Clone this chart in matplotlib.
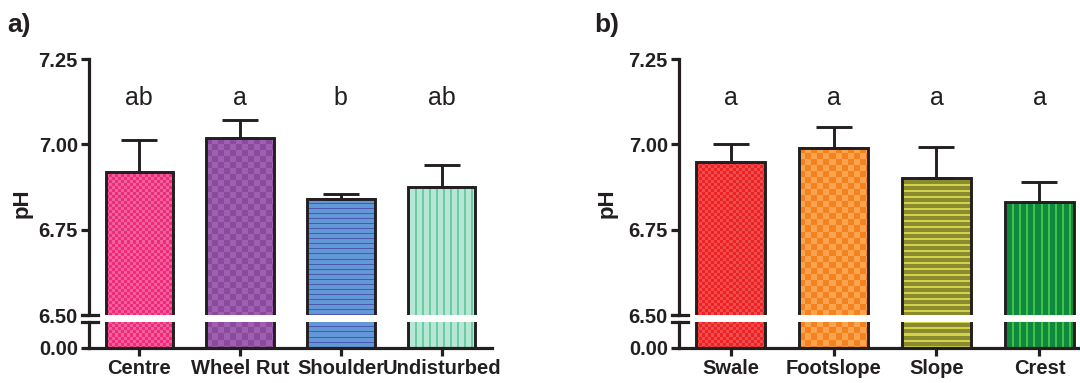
import numpy as np
import matplotlib.pyplot as plt
from matplotlib.colors import to_rgb

plt.rcParams['font.family'] = ['Liberation Sans', 'DejaVu Sans']

ink = '#231f20'

# panel a: road position
sites_a = ['Centre', 'Wheel Rut', 'Shoulder', 'Undisturbed']
ph_a = [6.92, 7.018, 6.84, 6.876]
err_a = [0.092, 0.052, 0.016, 0.064]
letters_a = ['ab', 'a', 'b', 'ab']

# panel b: slope position
sites_b = ['Swale', 'Footslope', 'Slope', 'Crest']
ph_b = [6.948, 6.99, 6.90, 6.83]
err_b = [0.052, 0.06, 0.093, 0.06]
letters_b = ['a', 'a', 'a', 'a']

# (pattern, base colour, pattern colour, period px, line px)
fills_a = [('check', '#ee2a7b', '#f2609c', 3, 0),
           ('check', '#8c4a9c', '#a060b2', 6, 0),
           ('hline', '#6297d8', '#4a58ad', 5, 1),
           ('vline', '#b6e6d6', '#6ccba0', 7, 2)]
fills_b = [('check', '#ec2227', '#f04c4c', 3, 0),
           ('check', '#f5821f', '#f9a44e', 6, 0),
           ('hline', '#8a8a2e', '#d2d24c', 6, 2),
           ('vline', '#0f8a3c', '#40c04c', 7, 2)]


def pattern(kind, c1, c2, size, thick, w, h):
    i, j = np.mgrid[0:h, 0:w]
    if kind == 'check':
        mask = ((i // size) + (j // size)) % 2 == 1
    elif kind == 'hline':
        mask = (i % size) < thick
    else:
        mask = (j % size) < thick
    img = np.empty((h, w, 3))
    img[:] = to_rgb(c1)
    img[mask] = to_rgb(c2)
    return img


def draw_panel(fig, left, width, sites, ph, err, letters, fills):
    ax_top = fig.add_axes([left, 0.1775, width, 0.6684])
    ax_bot = fig.add_axes([left, 0.0914, width, 0.0679])
    x = np.arange(len(sites))
    bw = 0.67

    for ax, lo, hi in ((ax_top, 6.5, 7.25), (ax_bot, 0.0, 1.0)):
        ax.set_xlim(-0.5, 3.5)
        ax.set_ylim(lo, hi)
        ax.bar(x, ph, bw, facecolor='none', edgecolor=ink, linewidth=2.1, zorder=3)
        for xi, v, f in zip(x, ph, fills):
            l, r = xi - bw / 2, xi + bw / 2
            b, t = lo, min(v, hi)
            (px0, py0), (px1, py1) = ax.transData.transform([(l, b), (r, t)])
            w, h = int(round(px1 - px0)), int(round(py1 - py0))
            ax.imshow(pattern(*f, w, h), extent=(l, r, b, t), aspect='auto',
                      interpolation='nearest', zorder=2)
        ax.set_xlim(-0.5, 3.5)
        ax.set_ylim(lo, hi)
        for s in ('top', 'right'):
            ax.spines[s].set_visible(False)
        for s in ('left', 'bottom'):
            ax.spines[s].set_linewidth(2.3)
            ax.spines[s].set_color(ink)
        ax.tick_params(width=2.3, length=6, color=ink, labelcolor=ink, labelsize=14.5)

    ax_top.errorbar(x, ph, yerr=[np.zeros(len(x)), err], fmt='none', ecolor=ink,
                    elinewidth=2.1, capsize=13, capthick=2.1, zorder=4)
    for xi, s in zip(x, letters):
        ax_top.text(xi, 7.135, s, ha='center', va='center', fontsize=18, color=ink)

    ax_top.spines['bottom'].set_visible(False)
    ax_top.set_xticks([])
    ax_top.set_yticks([6.5, 6.75, 7.0, 7.25])
    ax_top.set_yticklabels(['%.2f' % v for v in [6.5, 6.75, 7.0, 7.25]], fontweight='bold')
    ax_top.tick_params(axis='y', pad=2)

    ax_bot.set_yticks([0])
    ax_bot.set_yticklabels(['0.00'], fontweight='bold')
    ax_bot.tick_params(axis='y', pad=2)
    ax_bot.set_xticks(x)
    ax_bot.set_xticklabels(sites, fontweight='bold')
    ax_bot.tick_params(axis='x', pad=2)

    # break marks on the y axis
    ax_top.plot([-0.018, 0.022], [0, 0], transform=ax_top.transAxes, color=ink,
                lw=2.3, clip_on=False, zorder=5)
    ax_bot.plot([-0.018, 0.022], [1, 1], transform=ax_bot.transAxes, color=ink,
                lw=2.3, clip_on=False, zorder=5)
    return ax_top, ax_bot


fig = plt.figure(figsize=(10.8, 3.83), dpi=100)
draw_panel(fig, 89 / 1080, 403 / 1080, sites_a, ph_a, err_a, letters_a, fills_a)
draw_panel(fig, 679 / 1080, 412 / 1080, sites_b, ph_b, err_b, letters_b, fills_b)

fig.text(0.007, 0.935, 'a)', fontsize=19, fontweight='bold', va='center', color=ink)
fig.text(0.550, 0.935, 'b)', fontsize=19, fontweight='bold', va='center', color=ink)
fig.text(22 / 1080, 1 - 203 / 383, 'pH', rotation=90, ha='center', va='center',
         fontsize=16, fontweight='bold', color=ink)
fig.text(607 / 1080, 1 - 203 / 383, 'pH', rotation=90, ha='center', va='center',
         fontsize=16, fontweight='bold', color=ink)

fig.savefig('out.png', dpi=100)
